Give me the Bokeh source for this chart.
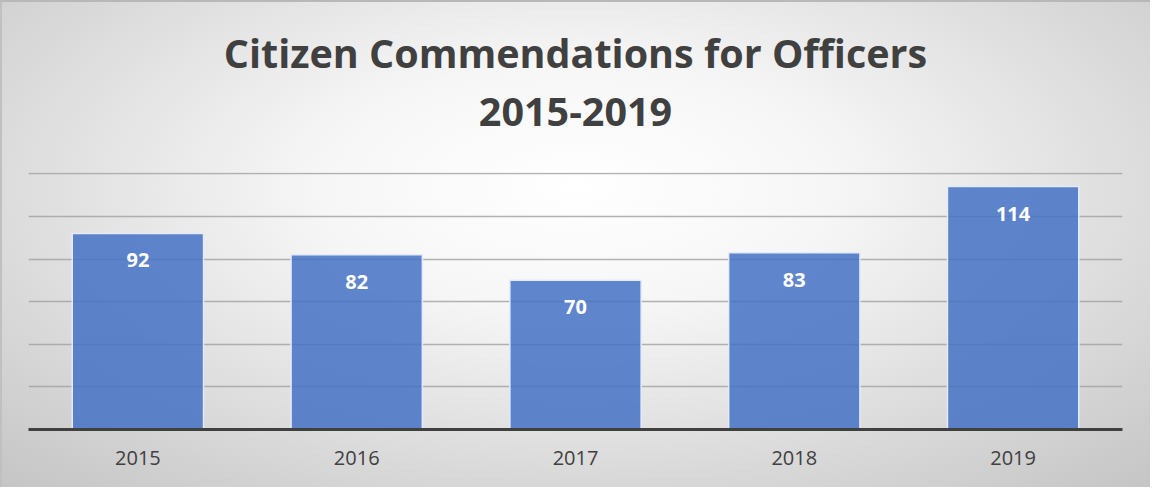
from bokeh.plotting import figure
from bokeh.models import ColumnDataSource, LabelSet, Title, FixedTicker, Range1d, FactorRange
from bokeh.core.properties import value
from bokeh.embed import file_html
from bokeh.resources import INLINE

years = ["2015", "2016", "2017", "2018", "2019"]
counts = [92, 82, 70, 83, 114]
title_lines = ["Citizen Commendations for Officers", "2015-2019"]

src = ColumnDataSource(dict(years=years, counts=counts, labels=[str(c) for c in counts]))

p = figure(width=1150, height=487, x_range=FactorRange(*years, range_padding=0),
           y_range=Range1d(0, 120.6), output_backend="svg", toolbar_location=None,
           min_border_left=26, min_border_right=30, min_border_top=170, min_border_bottom=60)

p.styles = {"background": "radial-gradient(ellipse 75% 85% at 50% 38%, #ffffff 0%, #f6f6f6 30%, #c4c4c4 100%)",
            "border-top": "2px solid #b8b8b8", "border-left": "2px solid #c0c0c0", "box-sizing": "border-box"}
p.border_fill_alpha = 0
p.background_fill_alpha = 0
p.outline_line_color = None

t2 = Title(text=title_lines[1], align="center", text_font="Open Sans", text_font_size="39.5px",
           text_color="#404040", text_font_style="bold", standoff=94)
t1 = Title(text=title_lines[0], align="center", text_font="Open Sans", text_font_size="39.5px",
           text_color="#404040", text_font_style="bold", standoff=-62)
p.add_layout(t2, "above")
p.add_layout(t1, "above")

p.vbar(x="years", top="counts", width=0.6, source=src, fill_color="#4472C4", fill_alpha=0.85,
       line_color="#e4ebf7", line_width=1.5)

p.add_layout(LabelSet(x="years", y="counts", text="labels", source=src, y_offset=-27,
                      text_align="center", text_baseline="middle", text_color="white",
                      text_font=value("Open Sans"), text_font_style="bold", text_font_size="20px"))

p.yaxis.visible = False
p.ygrid.ticker = FixedTicker(ticks=[20, 40, 60, 80, 100, 120])
p.ygrid.grid_line_color = "#a0a0a0"
p.ygrid.grid_line_width = 1.5
p.ygrid.grid_line_alpha = 0.8
p.xgrid.visible = False

p.xaxis.axis_line_color = "#404040"
p.xaxis.axis_line_width = 3
p.xaxis.major_tick_line_color = None
p.xaxis.minor_tick_line_color = None
p.xaxis.major_label_text_font = "Open Sans"
p.xaxis.major_label_text_font_size = "20px"
p.xaxis.major_label_text_color = "#404040"
p.xaxis.major_label_standoff = 15

open("out.html", "w").write(file_html(p, INLINE))
